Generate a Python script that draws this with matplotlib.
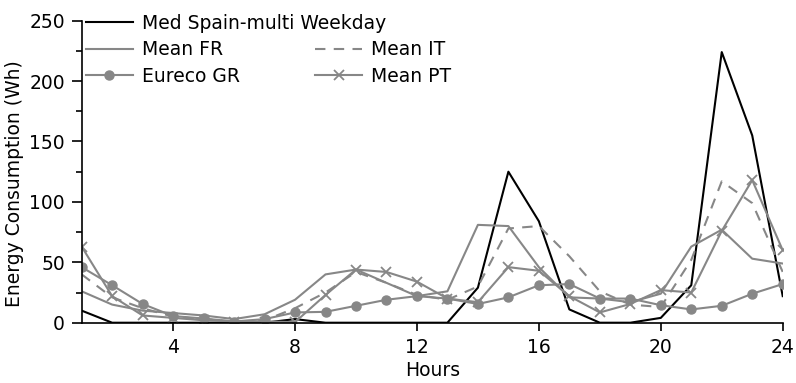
import matplotlib
matplotlib.use("Agg")
import matplotlib.pyplot as plt
from matplotlib.ticker import MultipleLocator

plt.rcParams["font.family"] = ["DejaVu Sans"]
plt.rcParams["font.size"] = 13.5

hours = list(range(1, 25))

med_spain_weekday = [10, 0, 0, 0, 0, 0, 0, 3, 0, 0, 0, 0,
                     0, 29, 125, 84, 11, 0, 0, 4, 31, 224, 155, 22]
mean_fr = [26, 15, 10, 8, 6, 3, 7, 19, 40, 44, 33, 22,
           26, 81, 80, 46, 21, 20, 17, 24, 63, 77, 53, 49]
mean_it = [40, 21, 12, 5, 3, 1, 2, 12, 25, 42, 33, 23,
           19, 30, 78, 80, 55, 26, 15, 13, 52, 117, 99, 42]
eureco_gr = [46, 31, 15.5, 5.5, 3.5, 1, 3, 8.5, 9, 14, 19, 22,
             20, 15.5, 21, 31, 32, 20, 20, 14.5, 11, 14, 24, 32]
mean_pt = [63, 22, 6, 4, 2, 1, 1, 0.5, 23, 44, 42, 34,
           20, 17, 46, 43, 22, 8.5, 15.5, 27, 25, 76, 118, 60]

x_ticks = [4, 8, 12, 16, 20, 24]
y_ticks = [0, 50, 100, 150, 200, 250]

grey = "0.53"
lw = 1.5

fig = plt.figure(figsize=(7.96, 3.83), dpi=100)
ax = fig.add_axes([0.1026, 0.1574, 0.8807, 0.7886])

l_es, = ax.plot(hours, med_spain_weekday, color="black", lw=lw,
                label="Med Spain-multi Weekday")
l_fr, = ax.plot(hours, mean_fr, color=grey, lw=lw, label="Mean FR")
l_it, = ax.plot(hours, mean_it, color=grey, lw=lw, dashes=(5, 4),
                label="Mean IT")
l_gr, = ax.plot(hours, eureco_gr, color=grey, lw=lw, marker="o", ms=6.5,
                label="Eureco GR")
l_pt, = ax.plot(hours, mean_pt, color=grey, lw=lw, marker="x", ms=7,
                mew=1.3, label="Mean PT")

ax.set_xlim(1, 24)
ax.set_ylim(0, 250)
ax.set_xticks(x_ticks)
ax.set_yticks(y_ticks)
ax.yaxis.set_minor_locator(MultipleLocator(25))
ax.tick_params(axis="y", which="major", direction="out", length=7,
               width=1.2, pad=5)
ax.tick_params(axis="y", which="minor", direction="out", length=4,
               width=1.2)
ax.tick_params(axis="x", which="major", direction="out", length=6,
               width=1.2, pad=5)
for side in ("top", "right"):
    ax.spines[side].set_visible(False)
for side in ("left", "bottom"):
    ax.spines[side].set_linewidth(1.2)

ax.set_xlabel("Hours", labelpad=3)
ax.set_ylabel("Energy Consumption (Wh)", labelpad=4)
ax.yaxis.label.set_y(0.46)

common = dict(frameon=False, borderpad=0, handlelength=2.5,
              handletextpad=0.5, borderaxespad=0)
leg1 = ax.legend(handles=[l_es], loc="center left",
                 bbox_to_anchor=(0.006, 0.991), **common)
ax.add_artist(leg1)
ax.legend(handles=[l_fr, l_gr, l_it, l_pt], ncol=2, loc="center left",
          bbox_to_anchor=(0.006, 0.86), labelspacing=0.4,
          columnspacing=4.0, **common)

fig.savefig("out.png", dpi=100)
